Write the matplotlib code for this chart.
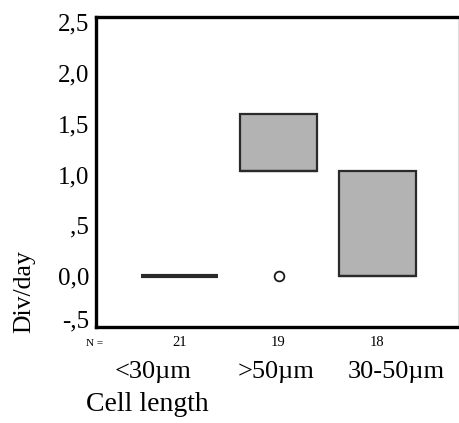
import matplotlib
matplotlib.use("Agg")
import matplotlib.pyplot as plt

# box plot data (Div/day per cell length class)
categories = ["<30\u00b5m", ">50\u00b5m", "30-50\u00b5m"]
n_counts = [21, 19, 18]
q1 = [0.0, 1.03, 0.0]
q3 = [0.0, 1.60, 1.03]
medians = [0.0, 1.03, 0.0]
whislo = [0.0, 1.03, 0.0]
whishi = [0.0, 1.60, 1.03]
outliers = [[], [0.0], []]
yticks = [-0.5, 0.0, 0.5, 1.0, 1.5, 2.0, 2.5]
ytick_labels = ["-,5", "0,0", ",5", "1,0", "1,5", "2,0", "2,5"]

plt.rcParams['font.family'] = ['Liberation Serif', 'DejaVu Serif']

fig = plt.figure(figsize=(4.59, 4.23), dpi=100)
ax = fig.add_axes([96 / 459, 1 - 327 / 423, 1 - 96 / 459 - 0.002, (327 - 17) / 423])

stats = []
for i in range(len(categories)):
    stats.append({"med": medians[i], "q1": q1[i], "q3": q3[i],
                  "whislo": whislo[i], "whishi": whishi[i],
                  "fliers": outliers[i], "label": categories[i]})

pos = [1, 2, 3]
ax.bxp(stats, positions=pos, widths=0.78, patch_artist=True, showcaps=False,
       boxprops=dict(facecolor="#b3b3b3", edgecolor="#2a2a2a", linewidth=1.6),
       medianprops=dict(color="#2a2a2a", linewidth=1.6),
       whiskerprops=dict(color="#2a2a2a", linewidth=1.6),
       flierprops=dict(marker="o", markerfacecolor="white", markeredgecolor="#1a1a1a",
                       markersize=7, markeredgewidth=1.3))
# collapsed box of first group is drawn as a thick bar
ax.plot([pos[0] - 0.39, pos[0] + 0.39], [q1[0], q3[0]], color="#2a2a2a", lw=3, solid_capstyle="butt")

ax.set_xlim(0.15, 3.82)
ax.set_ylim(-0.49, 2.55)
ax.set_yticks(yticks)
ax.set_yticklabels(ytick_labels, fontsize=18)
ax.set_xticks([])
ax.tick_params(axis="y", length=0, pad=5)
# the lowest label sits a bit higher in the original
ax.get_yticklabels()[0].set_va("baseline")

for s in ["left", "top", "bottom"]:
    ax.spines[s].set_linewidth(2.4)
    ax.spines[s].set_color("black")
ax.spines["right"].set_linewidth(0.8)
ax.spines["right"].set_color("#dddddd")

# N = row and category labels below the axes
trans = ax.get_xaxis_transform()
fig.text(95 / 459, 1 - 343 / 423, "N =", fontsize=8, ha="center", va="center")
label_shift = [-0.27, -0.02, 0.19]
for i in range(len(categories)):
    ax.text(pos[i], -0.05, str(n_counts[i]), transform=trans, fontsize=10.5,
            ha="center", va="center")
    ax.text(pos[i] + label_shift[i], -0.145, categories[i], transform=trans,
            fontsize=19, ha="center", va="center")

fig.text(147 / 459, 1 - 404 / 423, "Cell length", fontsize=20, ha="center", va="center")
fig.text(24 / 459, 1 - 292 / 423, "Div/day", fontsize=18.5, ha="center", va="center",
         rotation=90)

fig.savefig("out.png", dpi=100)
